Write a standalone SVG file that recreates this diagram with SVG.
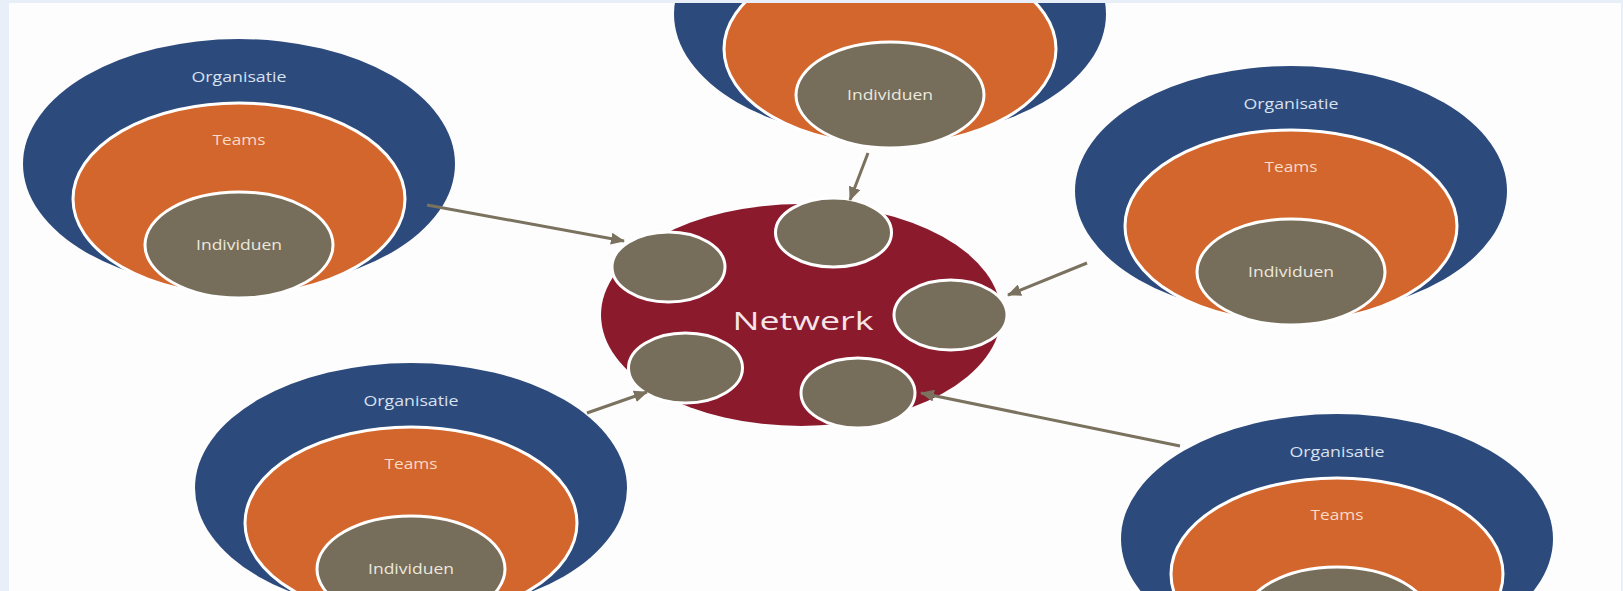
<svg xmlns="http://www.w3.org/2000/svg" width="1623" height="591" viewBox="0 0 1623 591">
<style>
.org{fill:#2c4a7c}
.team{fill:#d3662c;stroke:#ffffff;stroke-width:3}
.ind{fill:#766d5a;stroke:#ffffff;stroke-width:3}
.net{fill:#8b1a2d}
.t{font-family:"Open Sans","Liberation Sans",sans-serif;text-anchor:middle;font-size:14px}
.to{fill:#d9e1ef}
.tt{fill:#f8dac6}
.ti{fill:#ece8de}
.tn{font-size:26px;fill:#f6e4e7}
.conn{stroke:#7a725f;stroke-width:3;fill:none}
.band{fill:#e8eff8}
</style>
<defs>
<marker id="ah" markerUnits="userSpaceOnUse" markerWidth="14" markerHeight="12" refX="13" refY="6" orient="auto">
<path d="M0,0 L14,6 L0,12 Z" fill="#7a725f"/>
</marker>
<g id="target">
<ellipse class="org" cx="0" cy="0" rx="216" ry="125"/>
<ellipse class="team" cx="0" cy="35" rx="166" ry="96"/>
<ellipse class="ind" cx="0" cy="81" rx="94" ry="53"/>
<text class="t to" x="0" y="-82" textLength="95" lengthAdjust="spacingAndGlyphs">Organisatie</text>
<text class="t tt" x="0" y="-19" textLength="53" lengthAdjust="spacingAndGlyphs">Teams</text>
<text class="t ti" x="0" y="86" textLength="86" lengthAdjust="spacingAndGlyphs">Individuen</text>
</g>
</defs>
<rect x="0" y="0" width="1623" height="591" fill="#fdfdfd"/>
<g id="node-top-left"><use href="#target" transform="translate(239,164)"/></g>
<g id="node-top"><use href="#target" transform="translate(890,14)"/></g>
<g id="node-right"><use href="#target" transform="translate(1291,191)"/></g>
<g id="node-bottom-left"><use href="#target" transform="translate(411,488)"/></g>
<g id="node-bottom-right"><use href="#target" transform="translate(1337,539)"/></g>
<g id="network">
<ellipse class="net" cx="801" cy="315" rx="200" ry="111"/>
<text class="t tn" x="803" y="330" textLength="141" lengthAdjust="spacingAndGlyphs">Netwerk</text>
<ellipse class="ind" cx="833.5" cy="232.5" rx="58" ry="34.5"/>
<ellipse class="ind" cx="668.5" cy="267" rx="56.5" ry="35"/>
<ellipse class="ind" cx="950.5" cy="315" rx="56.5" ry="35"/>
<ellipse class="ind" cx="685.5" cy="368" rx="57" ry="35"/>
<ellipse class="ind" cx="858" cy="393" rx="57" ry="35"/>
</g>
<g id="connectors">
<line class="conn" x1="427" y1="205" x2="624" y2="241" marker-end="url(#ah)"/>
<line class="conn" x1="868" y1="153" x2="850" y2="200" marker-end="url(#ah)"/>
<line class="conn" x1="1087" y1="263" x2="1008" y2="295" marker-end="url(#ah)"/>
<line class="conn" x1="587" y1="413" x2="647" y2="392" marker-end="url(#ah)"/>
<line class="conn" x1="1180" y1="446" x2="921" y2="393" marker-end="url(#ah)"/>
</g>
<rect class="band" x="0" y="0" width="1623" height="3"/>
<rect class="band" x="0" y="0" width="9" height="591"/>
<rect class="band" x="1621" y="0" width="2" height="591"/>
</svg>
